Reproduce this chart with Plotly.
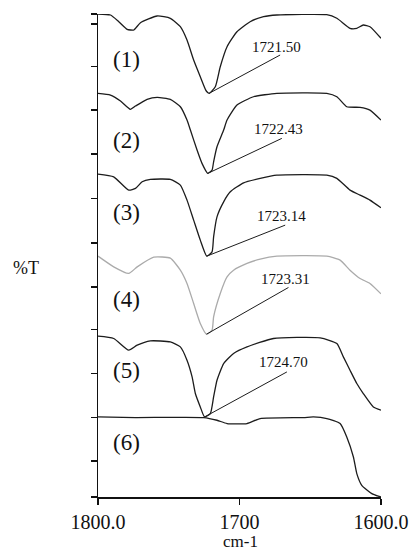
import plotly.graph_objects as go

# ---- data (wavenumber cm-1, offset %T in plot units) ----
wn1 = [1800, 1791.2, 1785.3, 1779.4, 1774.7, 1770.0, 1758.2, 1748.9, 1741.8, 1737.1, 1732.4, 1727.7, 1723.6, 1721.5,
       1717.1, 1713.6, 1708.8, 1701.8, 1692.5, 1683.0, 1673.6, 1638.3, 1631.2, 1621.9, 1617.1, 1612.5, 1607.8, 1600]
t1 = [482.7, 481.7, 475.0, 467.4, 466.7, 474.0, 480.7, 478.4, 470.0, 456.7, 436.7, 420.0, 406.0, 403.4,
      410.0, 430.0, 450.0, 465.0, 475.0, 480.0, 481.7, 482.0, 478.4, 468.4, 468.4, 471.7, 470.0, 458.4]

wn2 = [1800, 1791.2, 1784.1, 1777.1, 1773.5, 1765.3, 1758.2, 1748.9, 1741.8, 1737.1, 1734.7, 1730.0, 1726.5, 1722.43,
       1719.4, 1718.3, 1715.9, 1711.2, 1708.8, 1701.8, 1690.1, 1673.6, 1638.3, 1631.2, 1624.2, 1614.8, 1607.8, 1600]
t2 = [403.4, 401.7, 395.7, 387.4, 390.7, 397.4, 399.4, 397.4, 390.0, 376.7, 366.7, 346.7, 333.4, 323.4,
      326.7, 335.0, 350.0, 366.7, 376.7, 391.7, 400.0, 403.4, 403.4, 400.0, 390.0, 389.4, 386.7, 376.7]

wn3 = [1800, 1788.9, 1778.3, 1773.5, 1768.8, 1763.0, 1748.9, 1741.8, 1737.1, 1732.4, 1727.7, 1723.14,
       1719.4, 1718.3, 1715.9, 1711.2, 1706.5, 1697.1, 1685.4, 1673.6, 1638.3, 1631.2, 1621.9, 1614.8, 1607.8, 1600]
t3 = [322.7, 320.0, 306.7, 308.4, 315.0, 317.4, 317.4, 311.7, 296.7, 276.7, 256.7, 240.7,
      245.0, 260.0, 280.0, 295.0, 305.0, 314.0, 318.4, 321.7, 321.7, 318.4, 306.7, 301.7, 296.7, 289.0]

wn4 = [1800, 1788.9, 1778.3, 1772.3, 1760.6, 1748.9, 1741.8, 1737.1, 1732.4, 1727.7, 1723.31,
       1719.4, 1718.3, 1713.6, 1708.8, 1704.2, 1694.7, 1685.4, 1673.6, 1638.3, 1628.9, 1621.9, 1614.8, 1607.8, 1600]
t4 = [240.7, 230.0, 223.4, 230.0, 239.7, 238.7, 226.7, 213.4, 193.4, 173.4, 162.7,
      166.7, 180.0, 203.4, 220.0, 226.7, 233.4, 237.7, 240.7, 240.7, 236.7, 226.7, 218.4, 213.4, 203.0]

wn5 = [1800, 1788.9, 1778.3, 1772.3, 1763.0, 1748.9, 1741.8, 1737.1, 1733.5, 1731.2, 1727.7, 1724.70,
       1720.6, 1718.3, 1715.9, 1711.2, 1704.2, 1694.7, 1676.0, 1643.0, 1631.2, 1626.6, 1621.9, 1617.1, 1612.5, 1605.4, 1600]
t5 = [160.7, 158.4, 146.7, 151.7, 156.0, 155.0, 150.0, 136.7, 120.0, 103.4, 90.0, 80.0,
      83.4, 100.0, 116.7, 133.4, 143.4, 150.0, 158.4, 159.0, 153.4, 140.0, 126.7, 113.4, 103.4, 90.0, 86.7]

wn6 = [1800, 1773.5, 1725.4, 1715.9, 1708.8, 1694.7, 1685.4, 1654.8, 1647.8, 1638.3, 1628.9, 1624.2,
       1619.5, 1617.1, 1613.6, 1606.5, 1600]
t6 = [80.0, 79.4, 79.4, 76.7, 73.4, 73.4, 78.4, 79.4, 80.0, 78.4, 73.4, 60.0,
      40.0, 23.4, 11.7, 3.4, 0.0]

series_labels = ["(1)", "(2)", "(3)", "(4)", "(5)", "(6)"]
series_label_y = [437.7, 356.7, 284.7, 197.7, 126.7, 54.7]
series_label_x = 1779.9

peak_labels = ["1721.50", "1722.43", "1723.14", "1723.31", "1724.70"]
peak_x = [1721.5, 1722.43, 1723.14, 1723.31, 1724.70]
peak_y = [403.4, 323.4, 240.7, 162.7, 80.0]
leader_end_x = [1671.3, 1670.1, 1667.7, 1665.4, 1666.5]
leader_end_y = [441.7, 358.4, 271.7, 209.4, 125.0]
peak_text_x = [1673.6, 1672.7, 1670.1, 1667.7, 1669.1]
peak_text_y = [449.7, 367.7, 280.7, 217.7, 134.7]

x_tickvals = [1800, 1700, 1600]
x_ticktext = ["1800.0", "1700", "1600.0"]
y_tickvals = [0, 36.0, 79.4, 123.4, 167.4, 210.0, 254.0, 298.4, 342.7, 386.7, 430.0, 472.7, 482.7]

SERIF = "Liberation Serif, Times New Roman, serif"
DARK = "#1c1c1c"
GRAY = "#ababab"

fig = go.Figure()
curves = [(wn1, t1, DARK), (wn2, t2, DARK), (wn3, t3, DARK), (wn4, t4, GRAY), (wn5, t5, DARK), (wn6, t6, DARK)]
for wx, ty, col in curves:
    fig.add_trace(go.Scatter(x=wx, y=ty, mode="lines",
                             line=dict(color=col, width=1.3, shape="spline", smoothing=0.5),
                             showlegend=False, hoverinfo="skip"))

# leader lines
for i in range(len(peak_x)):
    fig.add_trace(go.Scatter(x=[peak_x[i], leader_end_x[i]], y=[peak_y[i], leader_end_y[i]],
                             mode="lines", line=dict(color=DARK, width=1),
                             showlegend=False, hoverinfo="skip"))

annotations = []
for i, lab in enumerate(series_labels):
    annotations.append(dict(x=series_label_x, y=series_label_y[i], xref="x", yref="y", text=lab,
                            showarrow=False, font=dict(family=SERIF, size=23, color="#111"),
                            xanchor="center", yanchor="middle"))
for i, lab in enumerate(peak_labels):
    annotations.append(dict(x=peak_text_x[i], y=peak_text_y[i], xref="x", yref="y", text=lab,
                            showarrow=False, font=dict(family=SERIF, size=15, color="#111"),
                            xanchor="center", yanchor="middle"))

# axis titles placed as in the reference
annotations.append(dict(x=(25 - 97.5) / 283.5, y=(496.7 - 268) / 482.7, xref="paper", yref="paper",
                        text="%T", showarrow=False, font=dict(family=SERIF, size=18, color="#111"),
                        xanchor="center", yanchor="middle"))
annotations.append(dict(x=(240 - 97.5) / 283.5, y=(496.7 - 541) / 482.7, xref="paper", yref="paper",
                        text="cm-1", showarrow=False, font=dict(family=SERIF, size=17, color="#111"),
                        xanchor="center", yanchor="middle"))

fig.update_layout(
    width=409, height=551,
    margin=dict(l=97.5, r=28, t=14.3, b=54.3, pad=0, autoexpand=False),
    paper_bgcolor="white", plot_bgcolor="white",
    annotations=annotations,
    xaxis=dict(range=[1800, 1600], autorange=False, showgrid=False, zeroline=False, automargin=False,
               showline=True, linecolor="#111", linewidth=1.5,
               ticks="outside", ticklen=6, tickwidth=1.5, tickcolor="#111",
               tickvals=x_tickvals, ticktext=x_ticktext,
               tickfont=dict(family=SERIF, size=20, color="#111")),
    yaxis=dict(range=[0, 482.7], autorange=False, showgrid=False, zeroline=False, automargin=False,
               showline=True, linecolor="#111", linewidth=1.5,
               ticks="outside", ticklen=6, tickwidth=1.5, tickcolor="#111",
               tickvals=y_tickvals, showticklabels=False),
)

fig.write_html(
    "out.html",
    config={"displayModeBar": False, "staticPlot": True},
    post_script="document.body.style.margin='0';document.body.style.overflow='hidden';"
                "document.documentElement.style.overflow='hidden';",
)
